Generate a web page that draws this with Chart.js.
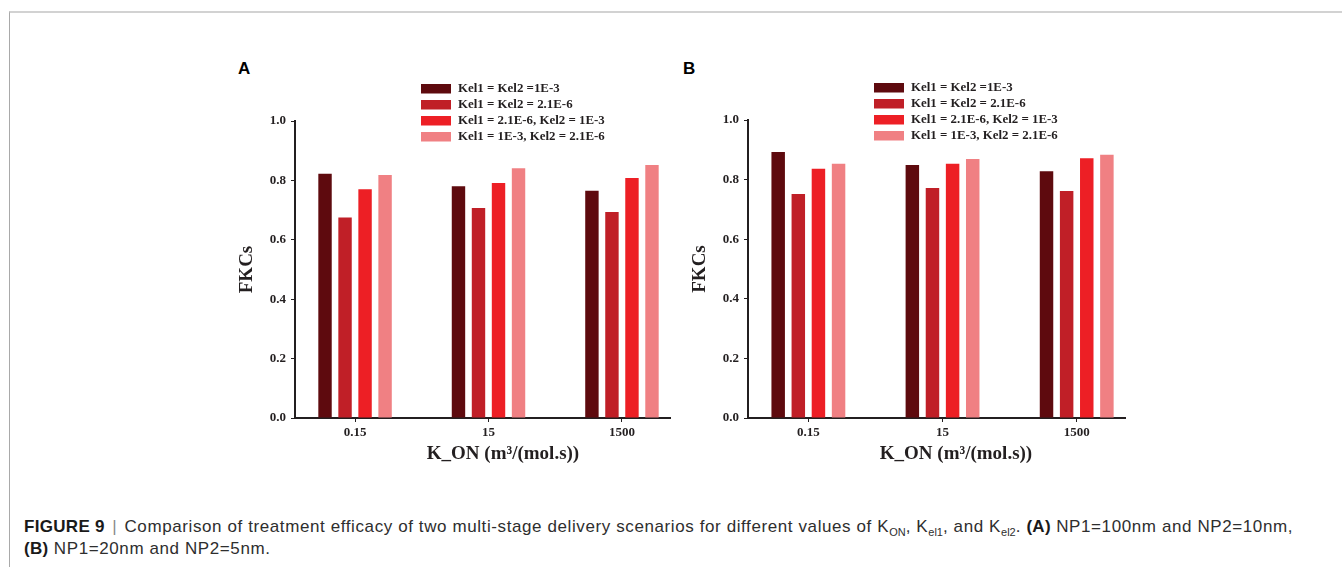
<!DOCTYPE html>
<html>
<head>
<meta charset="utf-8">
<script src="https://cdn.jsdelivr.net/npm/chart.js@4.4.1/dist/chart.umd.min.js"></script>
<style>
  html, body { margin: 0; padding: 0; background: #fff; }
  body { width: 1342px; height: 567px; position: relative; overflow: hidden;
         font-family: "Liberation Sans", Arial, sans-serif; }
  .frame { position: absolute; left: 9px; top: 11px; right: -2px; bottom: -2px;
           border-top: 2px solid #d2d2d2; border-left: 1px solid #a9a9a9; }
  .panel { position: absolute; top: 50px; }
  .tag { position: absolute; top: 59.5px; font-weight: bold; font-size: 17px;
         line-height: 17px; color: #000; }
  .caption { position: absolute; left: 24px; top: 516px; font-size: 17px;
             letter-spacing: 0.6px; line-height: 22px; color: #2e2e2e; white-space: nowrap; }
  .caption b { color: #1a1a1a; letter-spacing: 0.3px; }
  .caption .sep { color: #8a8a8a; margin: 0 2px; }
  .caption sub { font-size: 11px; line-height: 0; vertical-align: -4px; letter-spacing: 0; }
</style>
</head>
<body>
<div class="frame"></div>
<div class="tag" style="left:238px">A</div>
<div class="tag" style="left:683px">B</div>
<canvas id="chartA" class="panel" style="left:200px" width="490" height="420"></canvas>
<canvas id="chartB" class="panel" style="left:660px" width="490" height="420"></canvas>
<div class="caption"><b>FIGURE 9</b> <span class="sep">|</span> Comparison of treatment efficacy of two multi-stage delivery scenarios for different values of K<sub>ON</sub>, K<sub>el1</sub>, and K<sub>el2</sub>. <b>(A)</b> NP1=100nm and NP2=10nm,<br><b>(B)</b> NP1=20nm and NP2=5nm.</div>

<script>
// K_ON values on the category axis
const categories = ['0.15', '15', '1500'];

// Elimination-rate scenarios (one bar series each)
const seriesLabels = [
  'Kel1 = Kel2 =1E-3',
  'Kel1 = Kel2 = 2.1E-6',
  'Kel1 = 2.1E-6, Kel2 = 1E-3',
  'Kel1 = 1E-3, Kel2 = 2.1E-6'
];

// Panel A: NP1 = 100 nm, NP2 = 10 nm
const fkcsA_kelBoth1e3   = [0.822, 0.780, 0.765];
const fkcsA_kelBoth21e6  = [0.675, 0.707, 0.694];
const fkcsA_kel1Low      = [0.770, 0.791, 0.808];
const fkcsA_kel2Low      = [0.818, 0.841, 0.852];

// Panel B: NP1 = 20 nm, NP2 = 5 nm
const fkcsB_kelBoth1e3   = [0.893, 0.849, 0.828];
const fkcsB_kelBoth21e6  = [0.752, 0.772, 0.762];
const fkcsB_kel1Low      = [0.836, 0.853, 0.872];
const fkcsB_kel2Low      = [0.853, 0.869, 0.883];

// Y axis tick values
const yTickValues = [0, 0.2, 0.4, 0.6, 0.8, 1.0];

const xTitle = 'K_ON (m\u00B3/(mol.s))';
const yTitle = 'FKCs';

const seriesColors = ['#5e0a0e', '#c01f27', '#ed1f25', '#f08083'];
const ink = '#231f20';
const serif = '"Liberation Serif", "Times New Roman", serif';

// Axis titles and the legend block, placed relative to the plot area
const panelDecor = {
  id: 'panelDecor',
  afterDraw(chart) {
    const { ctx, chartArea: a } = chart;
    ctx.save();
    ctx.fillStyle = ink;

    // x title
    ctx.font = 'bold 19px ' + serif;
    ctx.textAlign = 'center';
    ctx.textBaseline = 'alphabetic';
    ctx.fillText(xTitle, a.left + 208, a.bottom + 41);

    // y title
    ctx.save();
    ctx.translate(a.left - 48, (a.top + a.bottom) / 2);
    ctx.rotate(-Math.PI / 2);
    ctx.textBaseline = 'middle';
    ctx.fillText(yTitle, 0, 0);
    ctx.restore();

    // legend
    ctx.font = 'bold 12.9px ' + serif;
    ctx.textAlign = 'left';
    ctx.textBaseline = 'middle';
    chart.data.datasets.forEach((ds, i) => {
      const top = a.top - 37 + i * 16;
      ctx.fillStyle = ds.backgroundColor;
      ctx.fillRect(a.left + 126, top, 30, 9.5);
      ctx.fillStyle = ink;
      ctx.fillText(ds.label, a.left + 163, top + 5);
    });
    ctx.restore();
  }
};

function buildPanel(id, series, box) {
  const canvas = document.getElementById(id);
  const W = canvas.width, H = canvas.height;
  const tickFont = { family: serif, weight: 'bold', size: 13 };
  return new Chart(canvas, {
    type: 'bar',
    data: {
      datasets: series.map((vals, i) => ({
        label: seriesLabels[i],
        data: vals.map((v, j) => ({ x: j, y: v })),
        backgroundColor: seriesColors[i],
        borderWidth: 0,
        categoryPercentage: 0.6,
        barPercentage: 0.67
      }))
    },
    options: {
      responsive: false,
      animation: false,
      devicePixelRatio: 1,
      layout: { padding: { top: box.top, right: W - box.right, left: 0, bottom: 0 } },
      plugins: { legend: { display: false }, tooltip: { enabled: false } },
      scales: {
        x: {
          type: 'linear',
          offset: false,
          min: -0.45,
          max: 2.36,
          afterBuildTicks: s => { s.ticks = categories.map((c, i) => ({ value: i })); },
          afterFit: s => { s.height = H - box.bottom; },
          ticks: {
            callback: v => categories[v],
            font: tickFont, color: ink, padding: 3,
            maxRotation: 0, autoSkip: false
          },
          grid: { offset: false, drawOnChartArea: false, drawTicks: true, tickLength: 4, tickColor: ink, tickWidth: 1 },
          border: { display: true, color: ink, width: 2 }
        },
        y: {
          min: 0,
          max: 1,
          afterBuildTicks: s => { s.ticks = yTickValues.map(v => ({ value: v })); },
          afterFit: s => { s.width = box.left; },
          ticks: {
            callback: v => v.toFixed(1),
            font: tickFont, color: ink, padding: 5
          },
          grid: { drawOnChartArea: false, drawTicks: true, tickLength: 4, tickColor: ink, tickWidth: 1 },
          border: { display: true, color: ink, width: 2 }
        }
      }
    },
    plugins: [panelDecor]
  });
}

buildPanel('chartA',
  [fkcsA_kelBoth1e3, fkcsA_kelBoth21e6, fkcsA_kel1Low, fkcsA_kel2Low],
  { left: 95, right: 470, top: 71, bottom: 368 });

buildPanel('chartB',
  [fkcsB_kelBoth1e3, fkcsB_kelBoth21e6, fkcsB_kel1Low, fkcsB_kel2Low],
  { left: 88, right: 465, top: 70, bottom: 368 });
</script>
</body>
</html>
